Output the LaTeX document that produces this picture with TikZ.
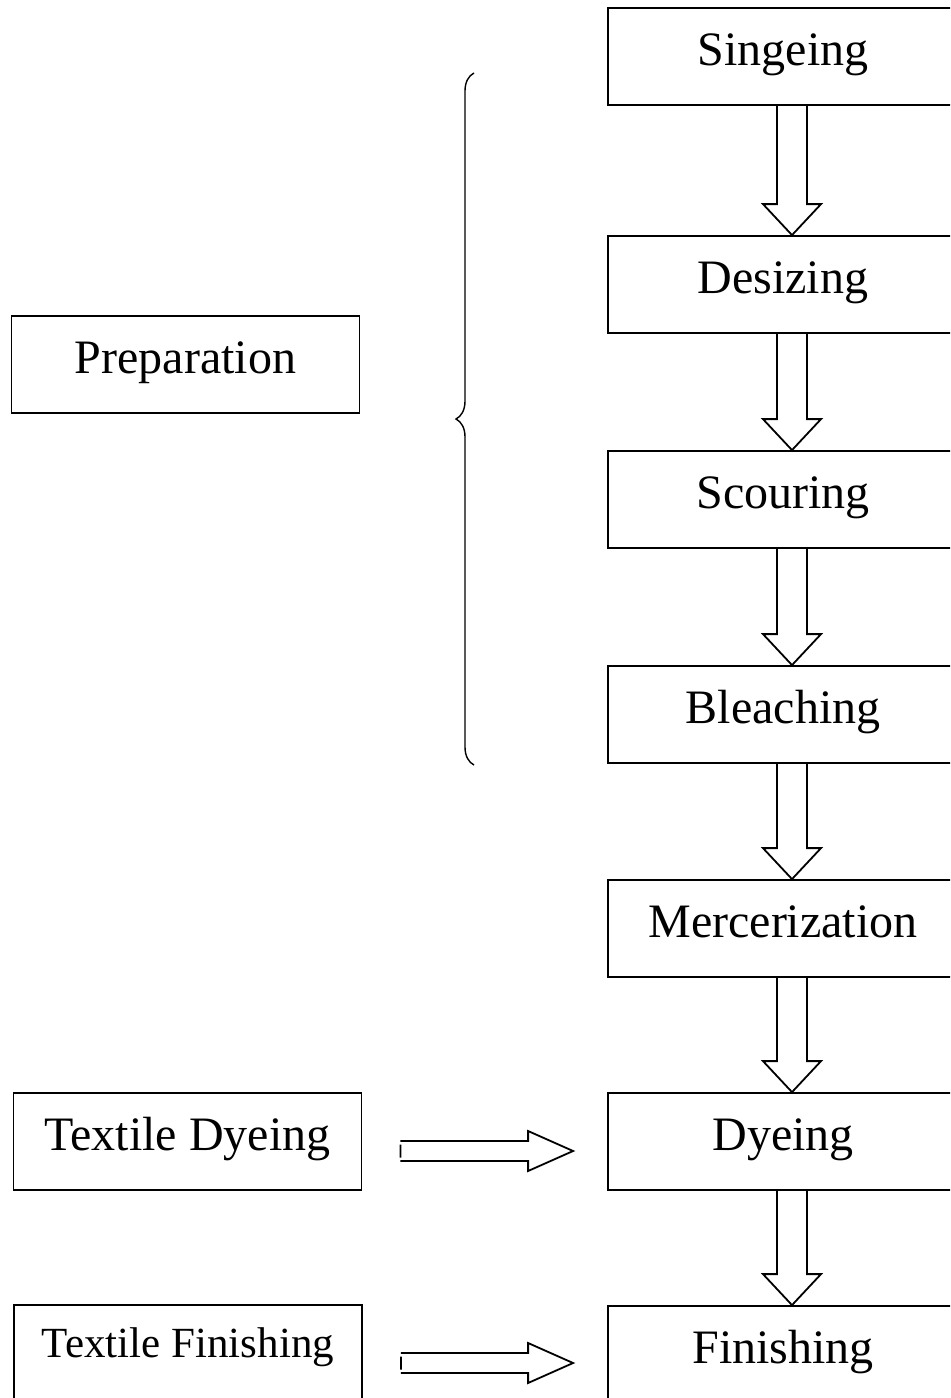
\documentclass[tikz,border=0pt]{standalone}
\usepackage{fontspec}
\setmainfont{Liberation Serif}
\usepackage{tikz}
\usetikzlibrary{calc, decorations.pathreplacing}

% hollow block arrows between two boxes
\newcommand{\flowdown}[2]{%
  \draw [hollow] let \p1=(#1.south), \p2=(#2.north) in
  (\x1-3pt,\y1) -- (\x1-3pt,\y2+15.5pt) -- (\x1-10pt,\y2+15.5pt)
  -- (\x1+4.5pt,\y2) -- (\x1+19pt,\y2+15.5pt) -- (\x1+12pt,\y2+15.5pt)
  -- (\x1+12pt,\y1);}
\newcommand{\flowright}[2]{%
  \draw [hollow] let \p1=(#1.east), \p2=(#2.west) in
  (\x1+19pt,\y1+0.25pt) -- (\x2-39.5pt,\y1+0.25pt) -- (\x2-39.5pt,\y1+5.25pt)
  -- (\x2-17pt,\y1-4.75pt) -- (\x2-39.5pt,\y1-14.75pt) -- (\x2-39.5pt,\y1-9.75pt)
  -- (\x1+19pt,\y1-9.75pt)
  (\x1+19pt,\y1-1.5pt) -- (\x1+19pt,\y1-8pt);}

\begin{document}
\begin{tikzpicture}[x=0.5pt, y=-0.5pt,
  stage/.style={rectangle, draw=black, line width=0.9pt, minimum width=175pt,
    minimum height=48.5pt, inner sep=0pt, text height=18pt, text depth=9.5pt,
    font=\fontsize{24}{28}\selectfont},
  %
  group/.style={stage, minimum width=174pt},
  %
  hollow/.style={draw=black, line width=0.9pt, line join=miter},
  %
  bracket/.style={draw=black, line width=0.7pt, decorate,
    decoration={brace, amplitude=9pt}}
  ]

  \useasboundingbox (0,0) rectangle (950,1398);
  \clip (0,0) rectangle (950,1398);

  \begin{scope}
    %%%%%%%%%%%%%%%%%%%%%%%%%%%%%%%
    \node [stage] (singeing) at (783,56.5) {Singeing};
    \node [stage] (desizing) at (783,284.5) {Desizing};
    \node [stage] (scouring) at (783,499.5) {Scouring};
    \node [stage] (bleaching) at (783,714.5) {Bleaching};
    \node [stage] (mercer) at (783,928.5) {Mercerization};
    \node [stage] (dyeing) at (783,1141.5) {Dyeing};
    \node [stage] (finishing) at (783,1354.5) {Finishing};
    %%%%%%%%%%%%%%%%%%%%%%%%%%%%%%%
    \node [group, text depth=9.5pt] (prep) at (185.5,364.5) {Preparation};
    \node [group, text depth=9.5pt] (tdyeing) at (187.5,1141.5) {Textile Dyeing};
    \node [group, text depth=14.5pt, font=\fontsize{21.5}{25}\selectfont]
      (tfinishing) at (188,1353.5) {Textile Finishing};
    %%%%%%%%%%%%%%%%%%%%%%%%%%%%%%%
    \coordinate (bracetop) at (474,73);
    \coordinate (bracebot) at (474,765);
  \end{scope}

  \begin{scope}
    \flowdown{singeing}{desizing}
    \flowdown{desizing}{scouring}
    \flowdown{scouring}{bleaching}
    \flowdown{bleaching}{mercer}
    \flowdown{mercer}{dyeing}
    \flowdown{dyeing}{finishing}
    \flowright{tdyeing}{dyeing}
    \flowright{tfinishing}{finishing}
    \draw [bracket] (bracebot) -- (bracetop);
  \end{scope}

\end{tikzpicture}
\end{document}
